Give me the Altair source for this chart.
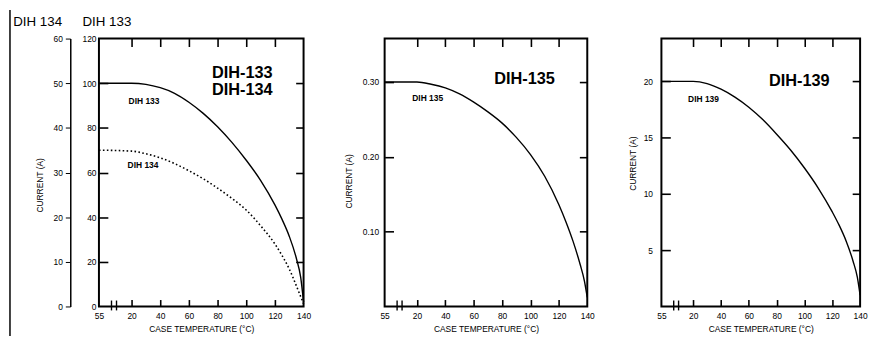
import altair as alt
import pandas as pd

# ---------------- data ----------------
X_TICKS = [-55, 20, 40, 60, 80, 100, 120, 140]
X_MINOR = [20, 40, 60, 80, 100, 120]
X_DOMAIN = [-55, 0, 140]
BREAK_T = [6, 9.5]

TEMPS = [-55, 20, 30, 40, 50, 60, 70, 80, 90, 100, 110, 120, 125, 130, 135, 138, 140]
I133 = [100, 100, 99.5, 98, 95.5, 91.5, 86.5, 80.5, 73.5, 65.5, 56.5, 45.5, 39, 31.5, 21.5, 13, 2]
I134 = [35, 34.8, 34.2, 33.3, 32.0, 30.4, 28.6, 26.5, 24.2, 21.6, 18.1, 14.0, 11.4, 8.4, 4.6, 2.2, 0.6]
I135 = [0.30, 0.30, 0.297, 0.292, 0.284, 0.273, 0.260, 0.245, 0.226, 0.203, 0.174, 0.136, 0.113,
        0.087, 0.056, 0.034, 0.012]
I139 = [20, 20, 19.8, 19.3, 18.6, 17.7, 16.6, 15.3, 13.9, 12.3, 10.5, 8.4, 7.2, 5.8, 4.0, 2.6, 1.0]

Y133_TICKS = [0, 20, 40, 60, 80, 100, 120]
Y133_MINOR = [20, 40, 60, 80, 100]
Y134_TICKS = [0, 10, 20, 30, 40, 50, 60]
Y135_TICKS = [0.10, 0.20, 0.30]
Y139_TICKS = [5, 10, 15, 20]

Y133_DOMAIN = [0, 120]
Y134_DOMAIN = [0, 60]
Y135_DOMAIN = [0, 0.358]
Y139_DOMAIN = [0, 23.8]

HEADINGS = ["DIH 134", "DIH 133"]
PANEL_TITLES = ["DIH-133", "DIH-134", "DIH-135", "DIH-139"]
CURVE_LABELS = ["DIH 133", "DIH 134", "DIH 135", "DIH 139"]
X_TITLE = "CASE TEMPERATURE (°C)"
Y_TITLE = "CURRENT (A)"

# ---------------- styling helpers ----------------
FONT = "Liberation Sans"
H = 271
W1, W2, W3 = 207, 205, 201


def df_of(t, i):
    return pd.DataFrame({"t": t, "i": i})


def xs(W):
    return alt.Scale(domain=X_DOMAIN, range=[0, 4, W], nice=False, zero=False)


def ys(domain):
    return alt.Scale(domain=domain, nice=False, zero=False)


def label_x_axis():
    return alt.Axis(values=X_TICKS, labelExpr="datum.value == -55 ? '55' : datum.label",
                    tickSize=0, domain=False, labelPadding=5, labelFlush=False,
                    labelOverlap=False, title=X_TITLE, titlePadding=5)


def tick_axis(orient, offset, size, values):
    return alt.Axis(orient=orient, offset=offset, tickSize=size, values=values, labels=False,
                    domain=False, title=None, grid=False, ticks=True, tickColor="black",
                    tickWidth=1.6, tickOpacity=1)


def tick_layers(df, W, ydomain, yminor):
    """Inward frame ticks: axes pushed across the plot so that their ticks point inside."""
    base = alt.Chart(df).mark_line(strokeOpacity=0)
    a = base.encode(
        x=alt.X("t:Q", scale=xs(W), axis=tick_axis("top", -H, 7, X_MINOR)),        # bottom edge, up
        y=alt.Y("i:Q", scale=ys(ydomain), axis=tick_axis("right", -W, 9, yminor)))  # left edge, right
    b = base.encode(
        x=alt.X("t:Q", scale=xs(W), axis=tick_axis("bottom", -H, 8, X_MINOR)),     # top edge, down
        y=alt.Y("i:Q", scale=ys(ydomain), axis=tick_axis("left", -W, 8, yminor)))  # right edge, left
    return [a, b]


def vrules(values, W, y0, y1, width=1.4):
    return alt.Chart(pd.DataFrame({"b": values})).mark_rule(color="black", strokeWidth=width).encode(
        x=alt.X("b:Q", scale=xs(W), axis=None),
        y=alt.value(y0), y2=alt.value(y1))


def text_layer(label, x, y, size, weight="bold", align="left"):
    return alt.Chart(pd.DataFrame({"label": [label]})).mark_text(
        font=FONT, fontSize=size, fontWeight=weight, align=align, baseline="middle", color="black"
    ).encode(x=alt.value(x), y=alt.value(y), text="label:N")


def curve(df, W, ydomain, yaxis, dash=None, xaxis=True):
    kw = dict(color="black", strokeWidth=1.4, interpolate="monotone")
    if dash:
        kw.update(strokeDash=dash, strokeWidth=1.6)
    return alt.Chart(df).mark_line(**kw).encode(
        x=alt.X("t:Q", scale=xs(W), axis=label_x_axis() if xaxis else None),
        y=alt.Y("i:Q", scale=ys(ydomain), axis=yaxis))


# ---------------- panel 1: DIH-133 / DIH-134 ----------------
d133 = df_of(TEMPS, I133)
border = alt.Chart(pd.DataFrame({"k": [0]})).mark_rule(color="black", strokeWidth=1.5).encode(
    x=alt.value(-90), y=alt.value(-29), y2=alt.value(H + 30))

c133 = curve(d133, W1, Y133_DOMAIN,
             alt.Axis(values=Y133_TICKS, format="d", tickSize=0, domain=False, labelPadding=3,
                      labelFlush=False, labelOverlap=False, title=None))
c134 = curve(df_of(TEMPS, I134), W1, Y134_DOMAIN,
             alt.Axis(orient="left", offset=29, values=Y134_TICKS, format="d", tickSize=5,
                      domain=True, domainWidth=1.5, labelPadding=3, labelFlush=False,
                      labelOverlap=False, title=Y_TITLE, titlePadding=9, titleY=148),
             dash=[1.6, 2.4], xaxis=False)

p1 = alt.layer(
    border,
    text_layer(HEADINGS[0], -62, -17, 13.5, "normal", "center"),
    text_layer(HEADINGS[1], 8, -17, 13.5, "normal", "center"),
    c133, c134,
    *tick_layers(d133, W1, Y133_DOMAIN, Y133_MINOR),
    vrules(BREAK_T, W1, H - 6, H + 4),
    text_layer(PANEL_TITLES[0], 145, 34.5, 16.5, "bold", "center"),
    text_layer(PANEL_TITLES[1], 145, 52, 16.5, "bold", "center"),
    text_layer(CURVE_LABELS[0], 30, 63, 8.5),
    text_layer(CURVE_LABELS[1], 29, 128, 8.5),
).resolve_scale(y="independent").resolve_axis(x="independent", y="independent").properties(
    width=W1, height=H)

# ---------------- panel 2: DIH-135 ----------------
d135 = df_of(TEMPS, I135)
c135 = curve(d135, W2, Y135_DOMAIN,
             alt.Axis(values=Y135_TICKS, format=".2f", tickSize=0, domain=False, labelPadding=6,
                      labelFlush=False, labelOverlap=False, title=Y_TITLE, titlePadding=9,
                      titleY=144))

p2 = alt.layer(
    c135,
    *tick_layers(d135, W2, Y135_DOMAIN, Y135_TICKS),
    vrules(BREAK_T, W2, H - 6, H + 4),
    text_layer(PANEL_TITLES[2], 141.5, 40.5, 16.5, "bold", "center"),
    text_layer(CURVE_LABELS[2], 28, 60, 8.5),
).resolve_scale(y="independent").resolve_axis(x="independent", y="independent").properties(
    width=W2, height=H)

# ---------------- panel 3: DIH-139 ----------------
d139 = df_of(TEMPS, I139)
c139 = curve(d139, W3, Y139_DOMAIN,
             alt.Axis(values=Y139_TICKS, format="d", tickSize=0, domain=False, labelPadding=9,
                      labelFlush=False, labelOverlap=False, title=Y_TITLE, titlePadding=6,
                      titleY=126))

p3 = alt.layer(
    c139,
    *tick_layers(d139, W3, Y139_DOMAIN, Y139_TICKS),
    vrules(BREAK_T, W3, H - 6, H + 4),
    text_layer(PANEL_TITLES[3], 139.5, 42.5, 16.5, "bold", "center"),
    text_layer(CURVE_LABELS[3], 27, 61, 8.5),
).resolve_scale(y="independent").resolve_axis(x="independent", y="independent").properties(
    width=W3, height=H)

chart = alt.hconcat(p1, p2, p3, spacing=31).properties(
    padding={"left": 0, "top": -2, "right": 0, "bottom": 0}, background="white"
).configure_view(stroke="black", strokeWidth=2).configure_axis(
    grid=False, labelFont=FONT, titleFont=FONT, labelFontSize=8.5, titleFontSize=8.5,
    titleFontWeight="normal", labelColor="black", titleColor="black", tickColor="black",
    domainColor="black", tickWidth=1
)

chart.save("out.html", embed_options={"renderer": "svg", "actions": False})
